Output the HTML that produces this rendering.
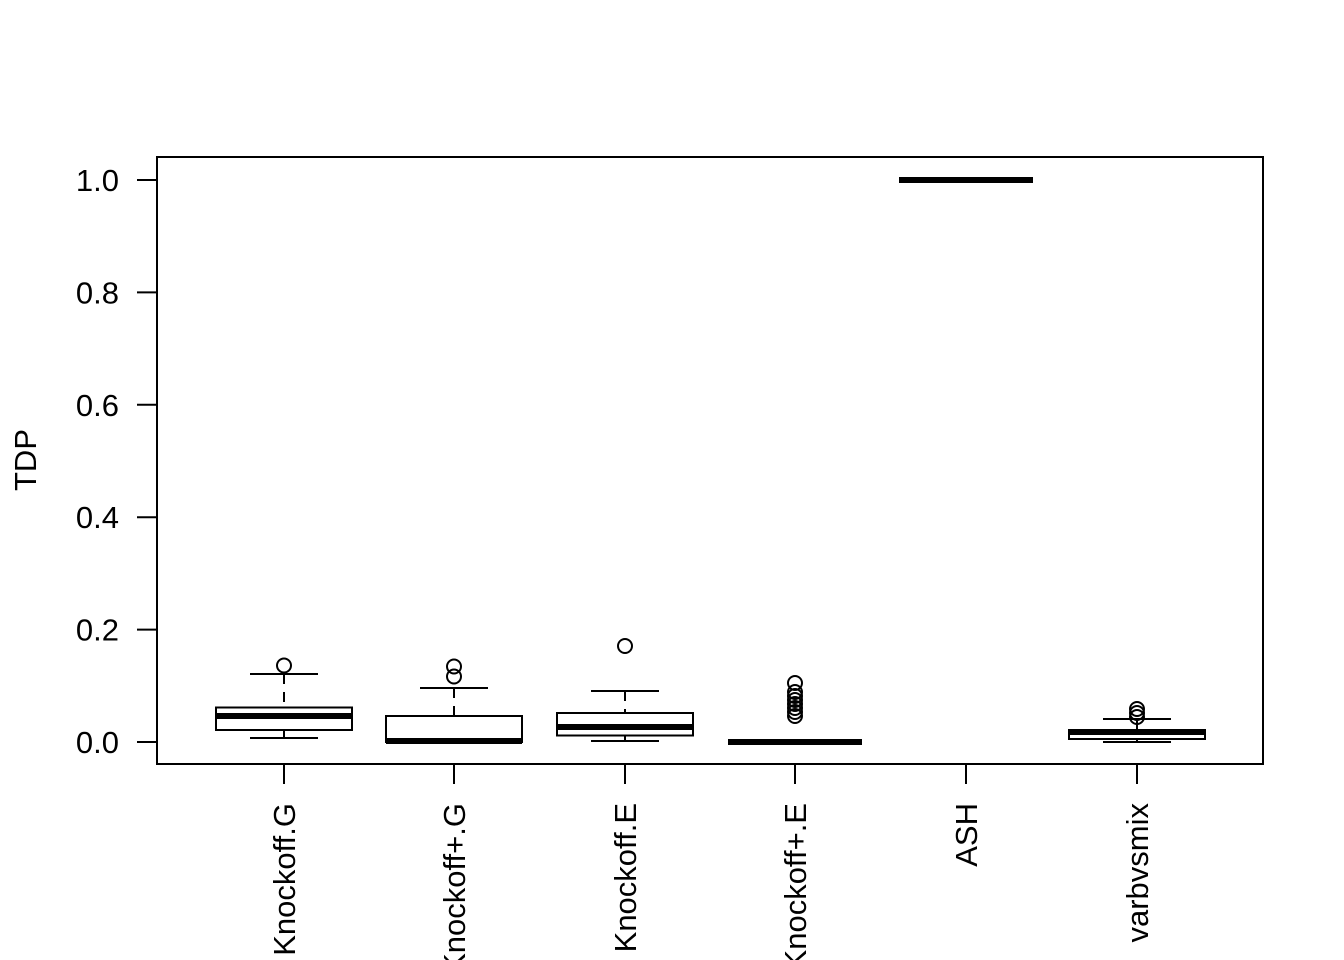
<!DOCTYPE html>
<html><head><meta charset="utf-8"><style>html,body{margin:0;padding:0;background:#fff}svg{display:block}</style></head><body>
<svg width="1344" height="960" xmlns="http://www.w3.org/2000/svg" font-family="Liberation Sans, Arial, sans-serif" font-size="31">
<rect width="1344" height="960" fill="#fff"/>
<g fill="none" stroke="#000" stroke-width="2">
<rect x="157" y="157" width="1106" height="607"/>
<!-- y ticks -->
<path d="M137 180H157M137 292.4H157M137 404.8H157M137 517.2H157M137 629.6H157M137 742H157"/>
<!-- x ticks -->
<path d="M284 764V784M454 764V784M625 764V784M795 764V784M966 764V784M1137 764V784"/>
<!-- Box1 -->
<path d="M250 674H318M250 738H318" />
<path d="M284 674V707.5M284 730V738" stroke-dasharray="10,8"/>
<rect x="216" y="707.5" width="136" height="22.5"/>
<path d="M216 716H352" stroke-width="6"/>
<circle cx="284" cy="665.5" r="7"/>
<!-- Box2 -->
<path d="M420 688H488"/>
<path d="M454 688V716" stroke-dasharray="10,8"/>
<rect x="386" y="716" width="136" height="26"/>
<path d="M386 741H522" stroke-width="6"/>
<circle cx="454" cy="666.5" r="7"/><circle cx="454" cy="676.5" r="7"/>
<!-- Box3 -->
<path d="M591 691H659M591 741H659"/>
<path d="M625 691V713M625 735V741" stroke-dasharray="10,8"/>
<rect x="557" y="713" width="136" height="22.5"/>
<path d="M557 727H693" stroke-width="6"/>
<circle cx="625" cy="646" r="7"/>
<!-- Box4 -->
<path d="M728 742H862" stroke-width="6"/>
<circle cx="795" cy="683" r="7"/><circle cx="795" cy="692" r="7"/><circle cx="795" cy="696" r="7"/><circle cx="795" cy="700" r="7"/><circle cx="795" cy="704" r="7"/><circle cx="795" cy="708" r="7"/><circle cx="795" cy="712" r="7"/><circle cx="795" cy="716" r="7"/>
<!-- ASH -->
<path d="M899 180H1033" stroke-width="6"/>
<!-- Box6 -->
<path d="M1103 719H1171M1103 742H1171"/>
<path d="M1137 719V730M1137 739V742"/>
<rect x="1069" y="730" width="136" height="9"/>
<path d="M1069 732.5H1205" stroke-width="5"/>
<circle cx="1137" cy="709" r="7"/><circle cx="1137" cy="713" r="7"/><circle cx="1137" cy="717" r="7"/>
</g>
<g text-anchor="end" fill="#000">
<text x="119" y="191">1.0</text>
<text x="119" y="303.4">0.8</text>
<text x="119" y="415.8">0.6</text>
<text x="119" y="528.2">0.4</text>
<text x="119" y="640.6">0.2</text>
<text x="119" y="753">0.0</text>
<text transform="translate(295,803) rotate(-90)">Knockoff.G</text>
<text transform="translate(465,803) rotate(-90)">Knockoff+.G</text>
<text transform="translate(636,803) rotate(-90)">Knockoff.E</text>
<text transform="translate(806,803) rotate(-90)">Knockoff+.E</text>
<text transform="translate(977,803) rotate(-90)">ASH</text>
<text transform="translate(1148,803) rotate(-90)">varbvsmix</text>
</g>
<text transform="translate(36,460) rotate(-90)" text-anchor="middle">TDP</text>
</svg>
</body></html>
